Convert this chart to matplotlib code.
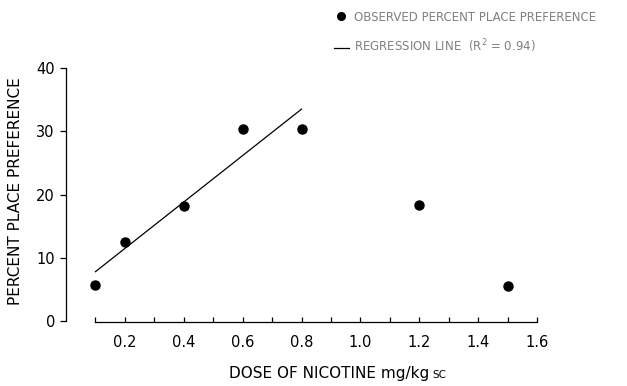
import numpy as np
import matplotlib
matplotlib.use('Agg')
import matplotlib.pyplot as plt
from matplotlib.lines import Line2D

dose = [0.1, 0.2, 0.4, 0.6, 0.8, 1.2, 1.5]
preference = [5.7, 12.5, 18.2, 30.4, 30.4, 18.3, 5.5]

# regression line endpoints (fit over 0.1-0.8 mg/kg)
reg_dose = [0.1, 0.8]
reg_pref = [7.8, 33.5]

x_ticks = [0.1, 0.2, 0.3, 0.4, 0.5, 0.6, 0.7, 0.8, 0.9, 1.0, 1.1, 1.2, 1.3, 1.4, 1.5, 1.6]
x_labels = ['', '0.2', '', '0.4', '', '0.6', '', '0.8', '', '1.0', '', '1.2', '', '1.4', '', '1.6']
y_ticks = [0, 10, 20, 30, 40]

plt.rcParams['font.family'] = ['DejaVu Sans']

fig = plt.figure(figsize=(6.27, 3.86), dpi=100)
ax = fig.add_axes([0.1053, 0.1684, 0.7512, 0.6554])

ax.plot(reg_dose, reg_pref, color='black', lw=0.9)
ax.plot(dose, preference, 'o', color='black', ms=6.5)

ax.set_xlim(0, 1.6)
ax.set_ylim(0, 40)

for s in ['top', 'right']:
    ax.spines[s].set_visible(False)
ax.spines['bottom'].set_bounds(0.1, 1.6)
ax.spines['bottom'].set_position(('outward', 1))
ax.spines['left'].set_bounds(0, 40)
ax.spines['left'].set_linewidth(0.9)
ax.spines['bottom'].set_linewidth(0.9)

ax.set_xticks(x_ticks)
ax.set_xticklabels(x_labels, fontsize=10.5)
ax.tick_params(axis='x', direction='in', length=3.5, width=0.9, pad=9)
ax.set_yticks(y_ticks)
ax.set_yticklabels([str(v) for v in y_ticks], fontsize=10.5)
ax.tick_params(axis='y', direction='out', length=4, width=0.9, pad=4)

fig.text(0.024, 0.505, 'PERCENT PLACE PREFERENCE', rotation=90,
         ha='center', va='center', fontsize=11)
fig.text(0.525, 0.02, 'DOSE OF NICOTINE mg/kg', ha='center', va='baseline', fontsize=11)
fig.text(0.69, 0.02, 'SC', ha='left', va='baseline', fontsize=7.5)

handles = [Line2D([], [], marker='o', color='black', ls='none', ms=5.5),
           Line2D([], [], color='black', lw=0.9)]
labels = ['OBSERVED PERCENT PLACE PREFERENCE', 'REGRESSION LINE  (R$^2$ = 0.94)']
leg = fig.legend(handles, labels, loc='upper left', bbox_to_anchor=(0.515, 1.0),
                 frameon=False, fontsize=8.5, handlelength=1.3, handletextpad=0.4,
                 labelspacing=1.2)
for t in leg.get_texts():
    t.set_color('#808080')

fig.savefig('out.png', dpi=100)
